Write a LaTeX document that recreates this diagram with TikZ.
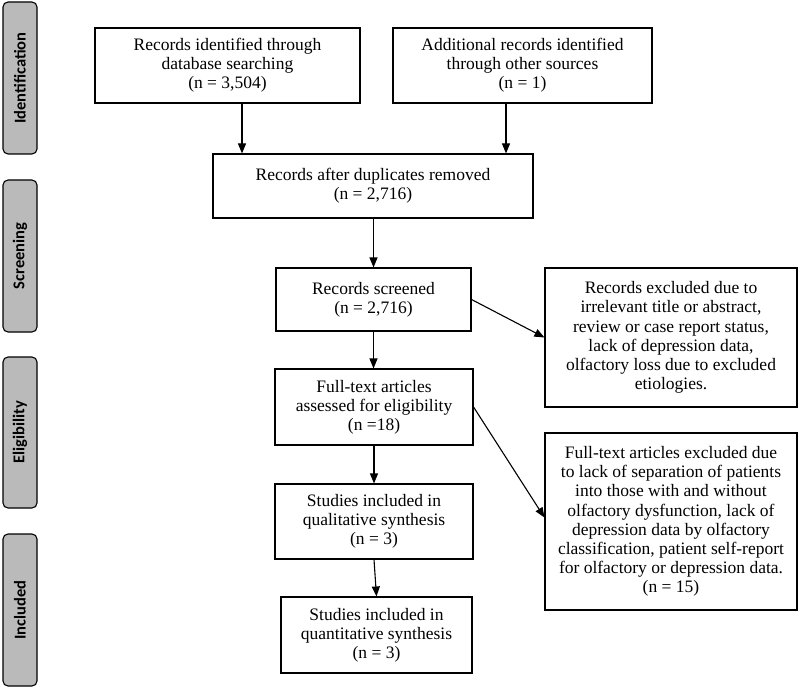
\documentclass[tikz,border=0pt]{standalone}
\usepackage{fontspec}
\setmainfont{Liberation Serif}
\newfontfamily\sidefont{Carlito}
\usetikzlibrary{arrows.meta,calc}
\begin{document}
\begin{tikzpicture}[x=1pt,y=-1pt,
 box/.style={draw, line width=1.1pt, align=center, font=\fontsize{17.5}{19.2}\selectfont, inner sep=0pt},
 side/.style={draw, line width=1.1pt, fill=black!27, rounded corners=5pt, minimum height=34pt, inner sep=0pt, rotate=90, font=\sidefont\bfseries\fontsize{16.5}{18}\selectfont},
 arr/.style={-{Triangle[length=10pt,width=8pt]}, line width=1.1pt}]
\useasboundingbox (0,0) rectangle (800,687);
% side labels
\node[side, minimum width=152pt] (s1) at (20,78) {Identification};
\node[side, minimum width=152pt] (s2) at (20,256) {Screening};
\node[side, minimum width=151pt] (s3) at (20,432.5) {Eligibility};
\node[side, minimum width=152pt] (s4) at (20,610) {Included};
% boxes
\node[box, minimum width=265pt, minimum height=75pt] (b1) at (227.5,65.5) {Records identified through\\database searching\\(n = 3,504)};
\node[box, minimum width=259pt, minimum height=75pt] (b2) at (522.5,65.5) {Additional records identified\\through other sources\\(n = 1)};
\node[box, minimum width=320pt, minimum height=64pt] (b3) at (373,186) {Records after duplicates removed\\(n = 2,716)};
\node[box, minimum width=195pt, minimum height=63pt] (b4) at (373.5,299.5) {Records screened\\(n = 2,716)};
\node[box, minimum width=198pt, minimum height=76pt] (b5) at (374,407) {Full-text articles\\assessed for eligibility\\(n =18)};
\node[box, minimum width=252pt, minimum height=139pt] (b6) at (671,337.5) {Records excluded due to\\irrelevant title or abstract,\\review or case report status,\\lack of depression data,\\olfactory loss due to excluded\\etiologies.};
\node[box, minimum width=252pt, minimum height=177pt] (b7) at (671,521.5) {Full-text articles excluded due\\to lack of separation of patients\\into those with and without\\olfactory dysfunction, lack of\\depression data by olfactory\\classification, patient self-report\\for olfactory or depression data.\\(n = 15)};
\node[box, minimum width=198pt, minimum height=75pt] (b8) at (374,521.5) {Studies included in\\qualitative synthesis\\(n = 3)};
\node[box, minimum width=191pt, minimum height=76pt] (b9) at (376.5,635) {Studies included in\\quantitative synthesis\\(n = 3)};
% connectors
\coordinate (c1) at (242,0);
\coordinate (c2) at (506,0);
\draw[arr] (b1.south -| c1) -- (b3.north -| c1);
\draw[arr] (b2.south -| c2) -- (b3.north -| c2);
\draw[arr] (b3.south -| b4.north) -- (b4.north);
\draw[arr] (b4.east) -- (b6.west);
\draw[arr] (b4.south) -- (b4.south |- b5.north);
\draw[arr] (b5.east) -- ($(b7.west)+(0,-4)$);
\draw[arr] (b5.south) -- (b5.south |- b8.north);
\draw[arr] (b8.south) -- (b9.north);
\end{tikzpicture}
\end{document}
